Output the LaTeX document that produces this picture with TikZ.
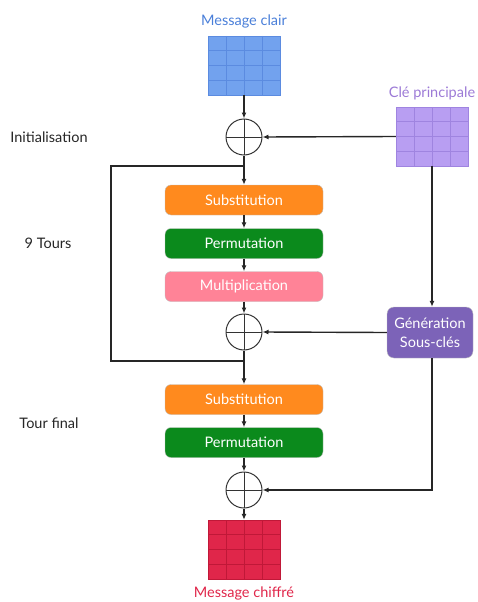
\documentclass[tikz,border=0pt]{standalone}
\usepackage{fontspec}
\setmainfont{Lato}
\usetikzlibrary{calc,arrows.meta}
\definecolor{blueF}{HTML}{72A2EE}
\definecolor{blueL}{HTML}{5B8BE0}
\definecolor{blueT}{HTML}{4A7FD9}
\definecolor{purpF}{HTML}{B89EF2}
\definecolor{purpL}{HTML}{9F84E0}
\definecolor{purpT}{HTML}{9C7AD6}
\definecolor{redF}{HTML}{E0264A}
\definecolor{redL}{HTML}{C01838}
\definecolor{orangeF}{HTML}{FF8A1E}
\definecolor{greenF}{HTML}{0B8A1C}
\definecolor{pinkF}{HTML}{FF8397}
\definecolor{genF}{HTML}{7C63B8}
\tikzset{
  x=1pt, y=-1pt,
  every node/.style={font=\fontsize{14.5}{17}\selectfont},
  conn/.style={draw=black!85, line width=1.4pt},
  arr/.style={conn, -{Latex[length=6pt,width=5pt]}},
  stage/.style={draw=black!25, rounded corners=6pt, minimum width=158pt,
    minimum height=30pt, text=white, inner sep=0pt},
  xorop/.style={circle, draw=black!80, line width=1pt, minimum size=36pt,
    inner sep=0pt, path picture={
      \draw[black!80, line width=1pt]
        (path picture bounding box.north) -- (path picture bounding box.south)
        (path picture bounding box.west) -- (path picture bounding box.east);}},
  block/.style={minimum width=72pt, minimum height=59pt, inner sep=0pt,
    path picture={
      \foreach \k in {1,2,3}{
        \draw[line width=0.8pt, #1]
          ($(path picture bounding box.north west)!\k/4!(path picture bounding box.north east)$)
          -- ($(path picture bounding box.south west)!\k/4!(path picture bounding box.south east)$)
          ($(path picture bounding box.north west)!\k/4!(path picture bounding box.south west)$)
          -- ($(path picture bounding box.north east)!\k/4!(path picture bounding box.south east)$);}}},
  sidelabel/.style={text=black!85}
}
\begin{document}
\begin{tikzpicture}
\useasboundingbox (0,0) rectangle (477,602);

% data blocks
\node[block=blueL, fill=blueF, draw=blueL] (plain) at (244,65.5) {};
\node[text=blueT] (plainlbl) at (244,21) {Message clair};
\node[block=purpL, fill=purpF, draw=purpL] (key) at (432,136.5) {};
\node[text=purpT] (keylbl) at (432,93) {Clé principale};
\node[block=redL, fill=redF, draw=redL] (cipher) at (244,549.5) {};
\node[text=redF] (cipherlbl) at (244,593) {Message chiffré};

% XOR operators
\node[xorop] (x1) at (244,137) {};
\node[xorop] (x2) at (244,332) {};
\node[xorop] (x3) at (244,490) {};

% round stages
\node[stage, fill=orangeF] (sub1) at (244,200) {Substitution};
\node[stage, fill=greenF] (perm1) at (244,243.5) {Permutation};
\node[stage, fill=pinkF] (mult) at (244,286.5) {Multiplication};
\node[stage, fill=orangeF] (sub2) at (244,399.5) {Substitution};
\node[stage, fill=greenF] (perm2) at (244,442.5) {Permutation};

% subkey generation
\node[draw=black!25, fill=genF, rounded corners=7pt, minimum width=86pt,
  minimum height=51pt, text=white, align=center, inner sep=0pt,
  font=\fontsize{14.5}{19}\selectfont] (gen) at (430,332.5) {Génération\\Sous-clés};

% side labels
\node[sidelabel] (lInit) at (49,137) {Initialisation};
\node[sidelabel] (lRounds) at (48,243) {9 Tours};
\node[sidelabel] (lFinal) at (49,423) {Tour final};

% main flow
\draw[arr] (plain) -- (x1);
\draw[arr] (key.west) -- (x1.east);
\draw[arr] (x1) -- (sub1);
\draw[arr] (sub1) -- (perm1);
\draw[arr] (perm1) -- (mult);
\draw[arr] (mult) -- (x2);
\draw[arr] (x2) -- (sub2);
\draw[arr] (sub2) -- (perm2);
\draw[arr] (perm2) -- (x3);
\draw[arr] (x3) -- (cipher);

% key schedule
\draw[arr] (key.south) -- (key.south |- gen.north);
\draw[arr] (gen.west) -- (x2.east);
\draw[arr] (key.south |- gen.south) |- (x3.east);

% round loop
\coordinate (loopout) at (244,361);
\coordinate (loopin) at (244,166);
\draw[conn] (loopout) -- (111,361) |- (loopin);
\end{tikzpicture}
\end{document}
